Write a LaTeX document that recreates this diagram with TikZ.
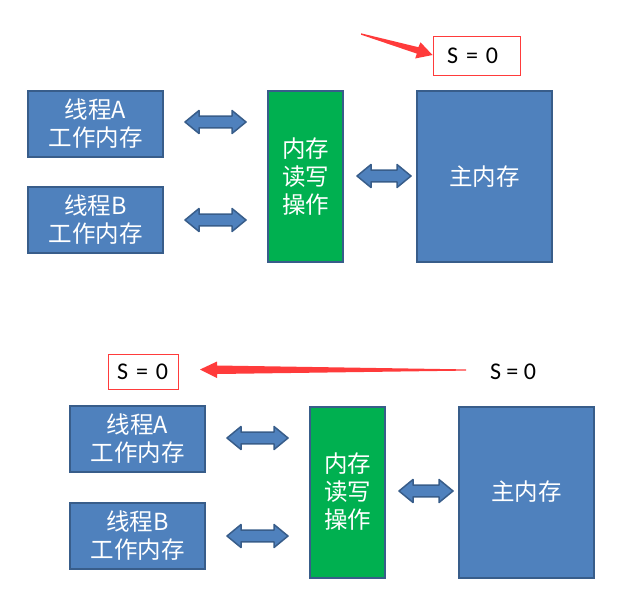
\documentclass[tikz,border=0pt]{standalone}
\usepackage{fontspec}
\setmainfont{Carlito}
\newfontfamily\cjk{Noto Sans CJK SC}
\usetikzlibrary{calc}
\definecolor{boxblue}{HTML}{4F81BD}
\definecolor{boxedge}{HTML}{385D8A}
\definecolor{opgreen}{HTML}{00B050}
\definecolor{redmark}{HTML}{FF3B3B}
\newcommand\dblarr[2]{%
  \path[dblstyle] let \p1=(#1), \p2=(#2) in
    (\x1,\y1) -- (\x1+14pt,\y1+11.5pt) -- (\x1+14pt,\y1+5.8pt) -- (\x2-14pt,\y2+5.8pt)
    -- (\x2-14pt,\y2+11.5pt) -- (\x2,\y2) -- (\x2-14pt,\y2-11.5pt) -- (\x2-14pt,\y2-5.8pt)
    -- (\x1+14pt,\y1-5.8pt) -- (\x1+14pt,\y1-11.5pt) -- cycle;}
\begin{document}
\begin{tikzpicture}[x=1pt,y=-1pt,
  membox/.style={draw=boxedge, line width=2pt, fill=boxblue, text=white,
    font=\cjk\fontsize{23.5}{28}\selectfont, align=center, inner sep=0pt},
  thrbox/.style={membox, minimum width=135pt, minimum height=66pt},
  opbox/.style={membox, fill=opgreen, minimum width=75pt, minimum height=171pt},
  mainbox/.style={membox, minimum width=135pt, minimum height=171pt},
  valbox/.style={draw=redmark, line width=1pt, font=\fontsize{24}{28}\selectfont, inner sep=0pt},
  valtext/.style={font=\fontsize{24}{28}\selectfont, inner sep=0pt},
  dblstyle/.style={draw=boxedge, line width=1.5pt, fill=boxblue, line join=round},
  redarrow/.style={fill=redmark, draw=none}
]
\useasboundingbox (0,0) rectangle (618,592);
% ---------- top ----------
\node[thrbox] (ta) at (95.5,124) {线程A\\工作内存};
\node[thrbox] (tb) at (95.5,220) {线程B\\工作内存};
\node[opbox] (op) at (305.5,176.5) {内存\\读写\\操作};
\node[mainbox] (mm) at (484.5,176.5) {主内存};
\node[valbox, minimum width=87pt, minimum height=39pt, text width=87pt, align=left] (s1) at (476.5,55.5) {\hspace*{14pt}S = 0};
\coordinate (a1l) at (185,122); \coordinate (a1r) at (246,122);
\coordinate (a2l) at (185,220); \coordinate (a2r) at (246,220);
\coordinate (a3l) at (357,176); \coordinate (a3r) at (411,176);
\dblarr{a1l}{a1r}
\dblarr{a2l}{a2r}
\dblarr{a3l}{a3r}
\coordinate (r1tail) at (361,34);
\path[redarrow] ($(r1tail)+(0,-0.7)$) -- (418.4,47.2) -- (420.5,42.3) -- (s1.west |- 0,55)
  -- (415.2,58.5) -- (416.8,53.6) -- ($(r1tail)+(0,0.7)$) -- cycle;
% ---------- bottom ----------
\node[thrbox] (ta2) at (137.5,439) {线程A\\工作内存};
\node[thrbox] (tb2) at (137.5,536) {线程B\\工作内存};
\node[opbox] (op2) at (347.5,492) {内存\\读写\\操作};
\node[mainbox] (mm2) at (526.5,492) {主内存};
\node[valbox, minimum width=70pt, minimum height=35pt, text width=70pt, align=left] (s2) at (143,371.5) {\hspace*{9pt}S = 0};
\node[valtext] (s3) at (513,372) {S = 0};
\coordinate (b1l) at (227,438); \coordinate (b1r) at (288,438);
\coordinate (b2l) at (227,536); \coordinate (b2r) at (288,536);
\coordinate (b3l) at (399,491); \coordinate (b3r) at (453,491);
\dblarr{b1l}{b1r}
\dblarr{b2l}{b2r}
\dblarr{b3l}{b3r}
\coordinate (r2tail) at (466,370);
\coordinate (r2tip) at (200,369.5);
\path[redarrow] (r2tip) -- (217,361.5) -- (217,365.5) -- ($(r2tail)+(0,-0.6)$)
  -- ($(r2tail)+(0,0.6)$) -- (217,374) -- (217,378) -- cycle;
\end{tikzpicture}
\end{document}
